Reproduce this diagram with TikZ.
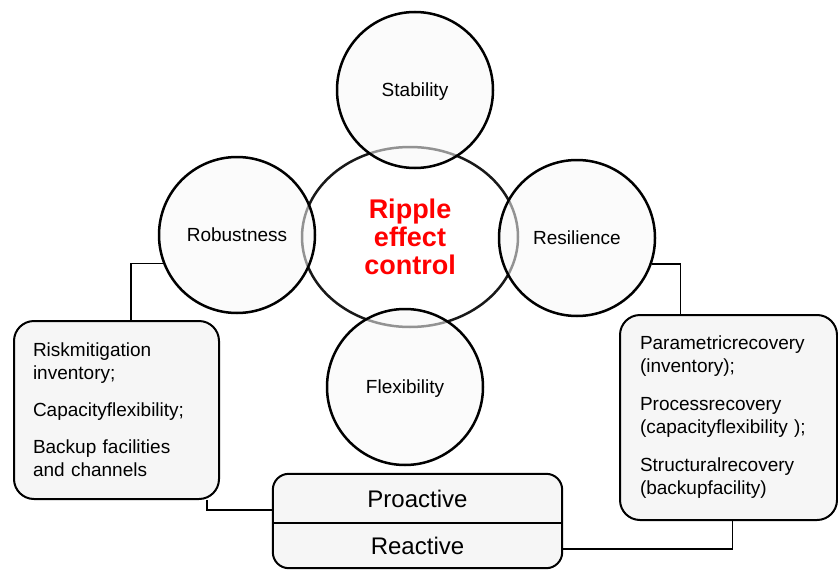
\documentclass[tikz,border=0pt]{standalone}
\usepackage{fontspec}
\setmainfont{Liberation Sans}
\usetikzlibrary{shapes.geometric,backgrounds}
\begin{document}
\begin{tikzpicture}[x=1pt,y=-1pt,
  circ/.style={circle, draw=black, line width=2.5pt, fill=gray!6, fill opacity=0.55, text opacity=1, minimum size=156pt, inner sep=0pt, text depth=0pt, font=\fontsize{19}{23}\selectfont},
  core/.style={ellipse, draw=black!90, line width=2.5pt, fill=white, minimum width=216pt, minimum height=180pt, inner sep=0pt, align=center, text=red, font=\fontsize{27}{28}\selectfont\bfseries},
  infobox/.style={draw=black, line width=2pt, rounded corners=20pt, fill=gray!7, align=left, inner sep=0pt, font=\fontsize{19}{23}\selectfont},
  halfbox/.style={minimum width=289pt, inner sep=0pt, font=\fontsize{24}{28}\selectfont},
  link/.style={line width=1.6pt}
]
\useasboundingbox (0,0) rectangle (838,570);

% centre ellipse
\node[core] (C) at (410,237) {Ripple\\effect\\control};

% four circles
\node[circ] (Sta) at (415,90) {Stability};
\node[circ] (Rob) at (237,235) {Robustness};
\node[circ] (Res) at (577,238) {Resilience};
\node[circ] (Fle) at (405,387) {Flexibility};

% side boxes
\node[infobox, minimum width=205pt, minimum height=178pt, text width=167pt] (L) at (116.5,410)
  {Riskmitigation\\inventory;\\[14pt]Capacityflexibility;\\[14pt]Backup facilities\\and channels};
\node[infobox, minimum width=217pt, minimum height=205pt, text width=177pt] (R) at (728.5,417.5)
  {Parametricrecovery\\(inventory);\\[15pt]Processrecovery\\(capacityflexibility );\\[15pt]Structuralrecovery\\(backupfacility)};

% proactive / reactive box
\node[halfbox, minimum height=49pt] (Pro) at (417.5,498.5) {Proactive};
\node[halfbox, minimum height=45pt] (Rea) at (417.5,545.5) {Reactive};
\begin{scope}[on background layer]
  \draw[line width=2pt, rounded corners=16pt, fill=gray!7]
    (Rea.south west) -- (Pro.north west) -- (Pro.north east) -- (Rea.south east) -- cycle;
\end{scope}
\draw[line width=2pt] (Pro.south west) -- (Pro.south east);

% connectors
\draw[link] (Rob.201) -| ([xshift=14.5pt]L.north);
\draw[link] (Res.-19) -| ([xshift=-48pt]R.north);
\draw[link] ([xshift=90.5pt]L.south) |- ([yshift=-11.5pt]Pro.west);
\draw[link] ([xshift=4pt]R.south) |- ([yshift=-3.5pt]Rea.east);
\end{tikzpicture}
\end{document}
